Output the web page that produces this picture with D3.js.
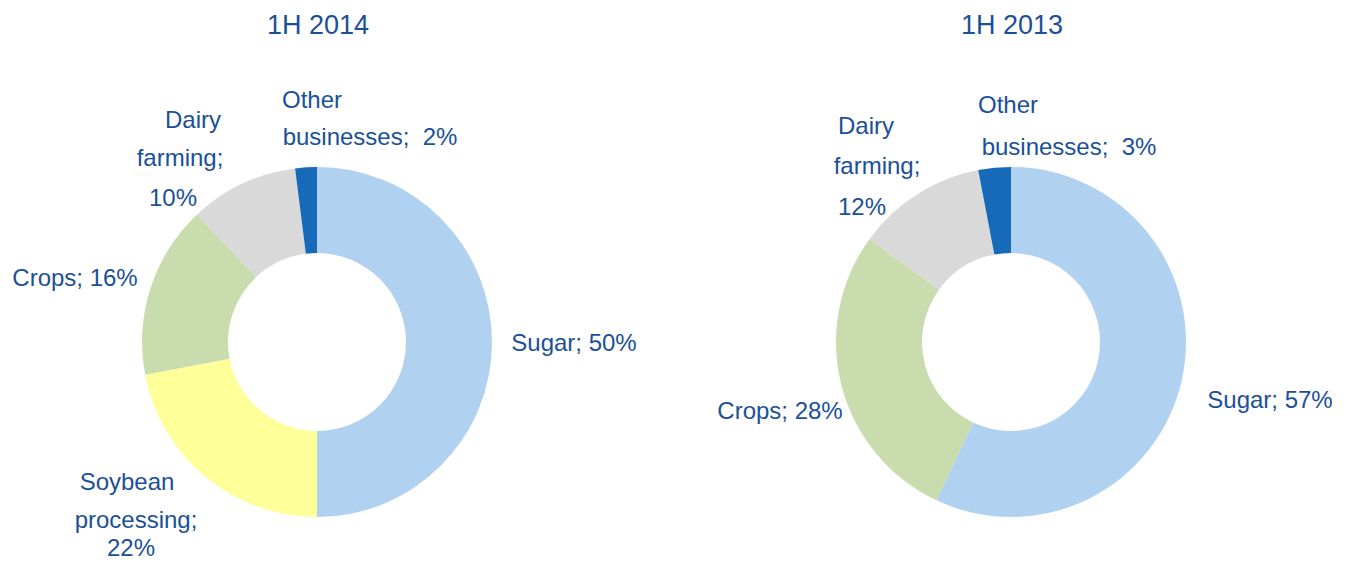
<!DOCTYPE html>
<html lang="en">
<head>
<meta charset="UTF-8">
<title>Sales by segment</title>
<script src="https://cdnjs.cloudflare.com/ajax/libs/d3/7.8.5/d3.min.js"></script>
<style>
body { margin: 0; background: #fff; }
text { font-family: "Liberation Sans", Arial, sans-serif; fill: #1b5098; }
</style>
</head>
<body>
<script>
// data
var titles = ["1H 2014", "1H 2013"];
var cats2014 = ["Sugar", "Soybean processing", "Crops", "Dairy farming", "Other businesses"];
var vals2014 = [50, 22, 16, 10, 2];
var cats2013 = ["Sugar", "Crops", "Dairy farming", "Other businesses"];
var vals2013 = [57, 28, 12, 3];

// label lines per slice (text as shown on the chart)
var lines2014 = [["Sugar; 50%"], ["Soybean", "processing;", "22%"], ["Crops; 16%"], ["Dairy", "farming;", "10%"], ["Other", "businesses;  2%"]];
var lines2013 = [["Sugar; 57%"], ["Crops; 28%"], ["Dairy", "farming;", "12%"], ["Other", "businesses;  3%"]];

var colors = {
    "Sugar": "#b1d1f0",
    "Soybean processing": "#ffff99",
    "Crops": "#c9dcad",
    "Dairy farming": "#d9d9d9",
    "Other businesses": "#1769ba"
};

// layout: label line centres [x, y] relative to each donut centre
var pos2014 = [
    [[257, 1]],
    [[-190, 140], [-181, 178], [-186, 206]],
    [[-242, -64]],
    [[-124, -222], [-137, -184], [-144, -144]],
    [[-5, -242], [53, -205]]
];
var pos2013 = [
    [[259, 58]],
    [[-231, 69]],
    [[-145, -216], [-134, -176], [-149, -135]],
    [[-3, -237], [58, -195]]
];

var W = 1348, H = 562;
var svg = d3.select("body").append("svg").attr("width", W).attr("height", H);

var charts = [
    {title: titles[0], cats: cats2014, vals: vals2014, lines: lines2014, pos: pos2014, cx: 317, cy: 342},
    {title: titles[1], cats: cats2013, vals: vals2013, lines: lines2013, pos: pos2013, cx: 1011, cy: 342}
];

var pie = d3.pie().sort(null).value(function(d) { return d; });
var arc = d3.arc().innerRadius(89).outerRadius(175);

charts.forEach(function(c) {
    var g = svg.append("g").attr("transform", "translate(" + c.cx + "," + c.cy + ")");

    g.selectAll("path")
        .data(pie(c.vals))
        .enter()
        .append("path")
        .attr("d", arc)
        .attr("fill", function(d, i) { return colors[c.cats[i]]; });

    c.lines.forEach(function(ls, i) {
        ls.forEach(function(t, j) {
            g.append("text")
                .attr("x", c.pos[i][j][0])
                .attr("y", c.pos[i][j][1])
                .attr("dy", "0.35em")
                .attr("text-anchor", "middle")
                .style("font-size", "24px")
                .style("white-space", "pre")
                .text(t);
        });
    });

    svg.append("text")
        .attr("x", c.cx + 1)
        .attr("y", 25)
        .attr("dy", "0.35em")
        .attr("text-anchor", "middle")
        .style("font-size", "27px")
        .text(c.title);
});
</script>
</body>
</html>
